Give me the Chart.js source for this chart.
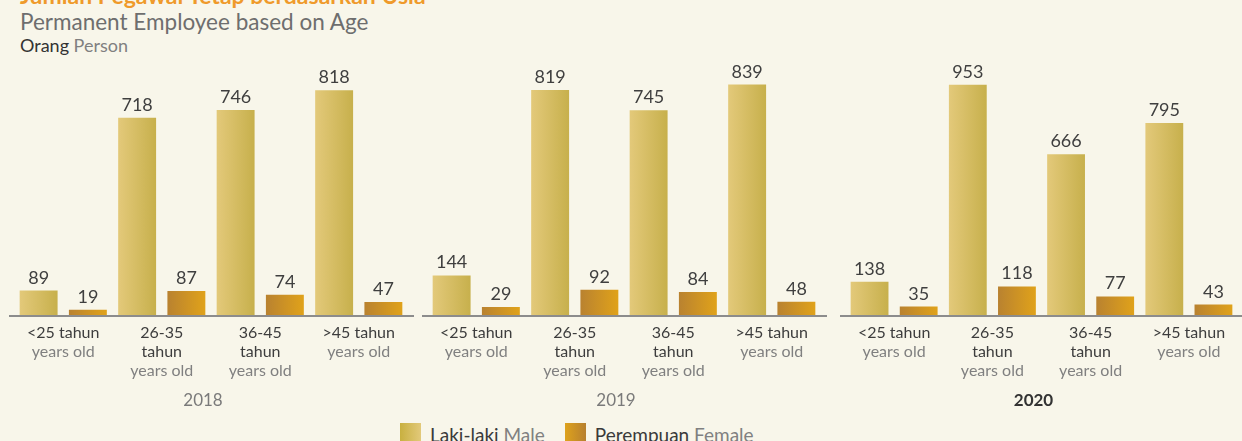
<!DOCTYPE html>
<html>
<head>
<meta charset="utf-8">
<script src="https://cdn.jsdelivr.net/npm/chart.js@4"></script>
<style>
  body { margin: 0; background: #f8f6ea; }
  #wrap { position: relative; width: 1242px; height: 441px; overflow: hidden; background: #f8f6ea; font-family: Lato, sans-serif; }
  .panel { position: absolute; top: 50px; }
  #title { position: absolute; left: 20px; top: -19px; font-size: 23px; font-weight: 700; color: #ef9a2b; white-space: nowrap; }
  #subtitle { position: absolute; left: 20px; top: 8px; font-size: 22.5px; color: #6e6e6e; white-space: nowrap; }
  #unit { position: absolute; left: 20px; top: 34px; font-size: 18px; color: #333; white-space: nowrap; }
  .en { color: #808080; }
  #legend { position: absolute; top: 423px; left: 400px; display: flex; font-size: 19px; color: #3a3a3a; white-space: nowrap; }
  .item { display: flex; align-items: flex-start; margin-right: 20px; }
  .box { width: 21px; height: 21px; margin-right: 9px; }
</style>
</head>
<body>
<div id="wrap">
  <div id="title">Jumlah Pegawai Tetap berdasarkan Usia</div>
  <div id="subtitle">Permanent Employee based on Age</div>
  <div id="unit">Orang <span class="en">Person</span></div>

  <div class="panel" style="left:9px"><canvas id="c2018" width="405" height="365"></canvas></div>
  <div class="panel" style="left:422px"><canvas id="c2019" width="405" height="365"></canvas></div>
  <div class="panel" style="left:840px"><canvas id="c2020" width="402" height="365"></canvas></div>

  <div id="legend">
    <div class="item"><div class="box" style="background:linear-gradient(90deg,#c8b040,#e2c97a)"></div>Laki-laki&nbsp;<span class="en">Male</span></div>
    <div class="item"><div class="box" style="background:linear-gradient(90deg,#dea21c,#b7802f)"></div>Perempuan&nbsp;<span class="en">Female</span></div>
  </div>
</div>

<script>
// Age groups: Indonesian lines (dark) + English line (grey)
const ageLabelsId = [['<25 tahun'], ['26-35', 'tahun'], ['36-45', 'tahun'], ['>45 tahun']]
const ageLabelEn = 'years old'

const years = ['2018', '2019', '2020']

const male2018 = [89, 718, 746, 818]
const female2018 = [19, 87, 74, 47]
const male2019 = [144, 819, 745, 839]
const female2019 = [29, 92, 84, 48]
const male2020 = [138, 953, 666, 795]
const female2020 = [35, 118, 77, 43]

const maleSeries = [male2018, male2019, male2020]
const femaleSeries = [female2018, female2019, female2020]

// each year panel uses its own vertical scale in the original
const panelMax = [910, 910, 1035]
const panelPadRight = [6, 6, 4]

const BAR_PCT = 0.77
const FONT = 'Lato, sans-serif'

function barGradient(c, leftColor, rightColor) {
  const chart = c.chart
  const area = chart.chartArea
  if (!area) return leftColor
  const x = chart.scales.x.getPixelForValue(c.dataIndex)
  const slot = (area.right - area.left) / ageLabelsId.length / 2
  const center = x + (c.datasetIndex === 0 ? -slot / 2 : slot / 2)
  const half = slot * BAR_PCT / 2
  const g = chart.ctx.createLinearGradient(center - half, 0, center + half, 0)
  g.addColorStop(0, leftColor)
  g.addColorStop(1, rightColor)
  return g
}

const panelText = {
  id: 'panelText',
  beforeDatasetsDraw(chart) {
    const ctx = chart.ctx
    const area = chart.chartArea
    ctx.save()
    ctx.strokeStyle = '#8c8c8c'
    ctx.lineWidth = 2
    ctx.beginPath()
    ctx.moveTo(0, area.bottom + 1)
    ctx.lineTo(chart.width, area.bottom + 1)
    ctx.stroke()
    ctx.restore()
  },
  afterDatasetsDraw(chart) {
    const ctx = chart.ctx
    ctx.save()
    ctx.font = '18px ' + FONT
    ctx.fillStyle = '#3f3f3f'
    ctx.textAlign = 'center'
    ctx.textBaseline = 'alphabetic'
    chart.data.datasets.forEach((ds, di) => {
      chart.getDatasetMeta(di).data.forEach((bar, i) => {
        ctx.fillText(String(ds.data[i]), bar.x, bar.y - 7)
      })
    })
    ctx.restore()
  },
  afterDraw(chart, args, opts) {
    const ctx = chart.ctx
    const area = chart.chartArea
    const xScale = chart.scales.x
    ctx.save()
    ctx.textAlign = 'center'
    ctx.textBaseline = 'middle'
    ctx.font = '16px ' + FONT
    ageLabelsId.forEach((lines, i) => {
      const x = xScale.getPixelForValue(i)
      let y = area.bottom + 18
      lines.forEach(line => {
        ctx.fillStyle = '#3d3d3d'
        ctx.fillText(line, x, y)
        y += 18.7
      })
      ctx.fillStyle = '#808080'
      ctx.fillText(ageLabelEn, x, y)
    })
    const bold = opts.bold
    ctx.font = (bold ? '700 ' : '') + '17px ' + FONT
    ctx.fillStyle = bold ? '#333333' : '#7a7a7a'
    ctx.fillText(opts.year, (area.left + area.right) / 2 - 8, area.bottom + 86)
    ctx.restore()
  }
}

years.forEach((year, p) => {
  const canvas = document.getElementById('c' + year)
  new Chart(canvas.getContext('2d'), {
    type: 'bar',
    data: {
      labels: ageLabelsId.map(l => l.join(' ')),
      datasets: [{
        label: 'Laki-laki Male',
        data: maleSeries[p],
        backgroundColor: c => barGradient(c, '#e3c97a', '#c7b04c'),
        borderWidth: 0,
        categoryPercentage: 1,
        barPercentage: BAR_PCT
      }, {
        label: 'Perempuan Female',
        data: femaleSeries[p],
        backgroundColor: c => barGradient(c, '#b98230', '#e0a21a'),
        borderWidth: 0,
        categoryPercentage: 1,
        barPercentage: BAR_PCT
      }]
    },
    options: {
      responsive: false,
      animation: false,
      layout: {
        padding: { top: 15, bottom: 100, left: 5, right: panelPadRight[p] }
      },
      plugins: {
        legend: { display: false },
        tooltip: { enabled: false },
        panelText: { year: year, bold: p === 2 }
      },
      scales: {
        x: { display: false },
        y: { display: false, min: 0, max: panelMax[p] }
      }
    },
    plugins: [panelText]
  })
})
</script>
</body>
</html>
